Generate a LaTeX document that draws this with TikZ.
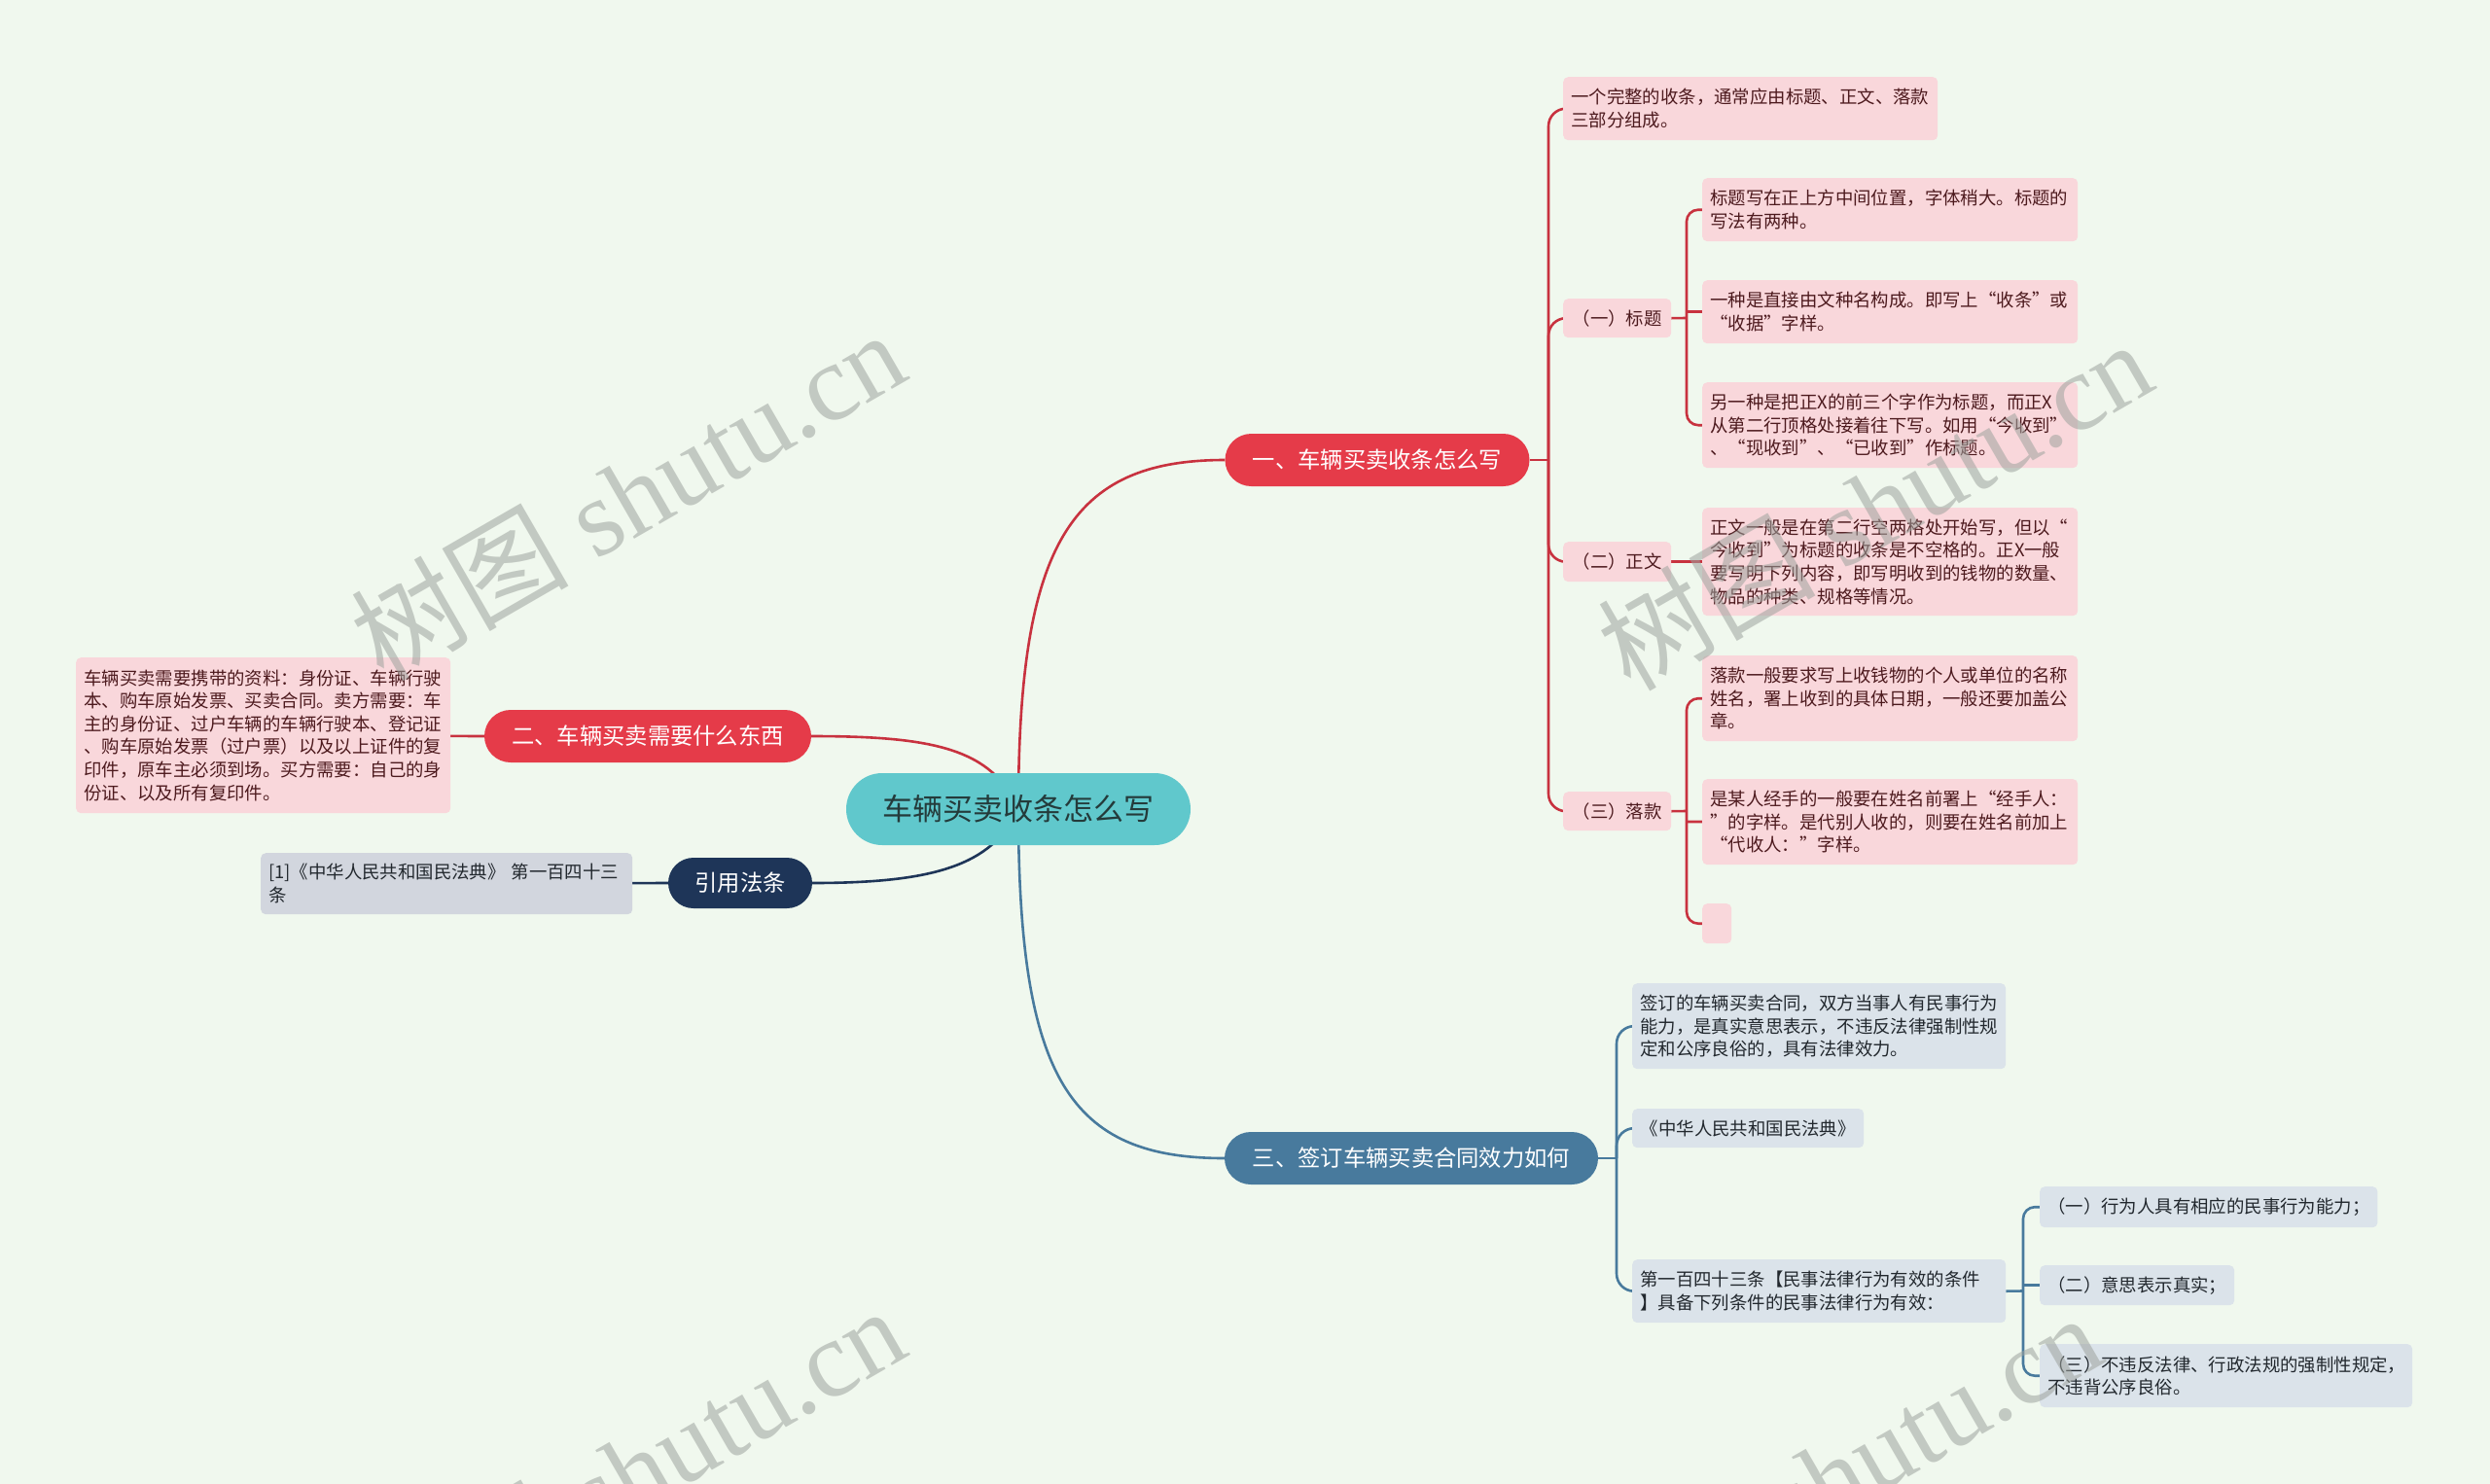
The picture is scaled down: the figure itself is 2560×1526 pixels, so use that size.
\documentclass[tikz,border=0pt]{standalone}
\usepackage{fontspec}
\newfontfamily\cjk{Noto Sans CJK SC}
\newfontfamily\wmserif{Liberation Serif}
\definecolor{bg}{HTML}{F0F8EE}
\definecolor{rootc}{HTML}{60C8CC}
\definecolor{roottext}{HTML}{243B3B}
\definecolor{redc}{HTML}{E53B49}
\definecolor{redline}{HTML}{C8323F}
\definecolor{pinkc}{HTML}{F9D7DB}
\definecolor{pinktext}{HTML}{4D1A1E}
\definecolor{navyc}{HTML}{1E3558}
\definecolor{bluec}{HTML}{487A9D}
\definecolor{bluegrey}{HTML}{DBE3EA}
\definecolor{greyc}{HTML}{D2D6DE}
\definecolor{darktext}{HTML}{22282E}
\definecolor{wmc}{HTML}{9EA39E}
\newcommand\leaffont{\cjk\fontsize{18.4}{23.6}\selectfont}
\newcommand\branchfont{\cjk\fontsize{23.3}{28}\selectfont}
\newcommand\rootfont{\cjk\fontsize{31}{36}\selectfont}
\pgfdeclarelayer{back}
\pgfsetlayers{back,main}
\tikzset{
  pill/.style={rectangle, rounded corners=27pt, inner sep=0pt, text=white, font=\branchfont, minimum height=54pt},
  pinkbox/.style={rectangle, rounded corners=5pt, fill=pinkc, text=pinktext, font=\leaffont, inner xsep=8pt, inner ysep=0pt, anchor=north west, align=left},
  bluebox/.style={rectangle, rounded corners=5pt, fill=bluegrey, text=darktext, font=\leaffont, inner xsep=8pt, inner ysep=0pt, anchor=north west, align=left},
  greybox/.style={rectangle, rounded corners=5pt, fill=greyc, text=darktext, font=\leaffont, inner xsep=8pt, inner ysep=0pt, anchor=north west, align=left},
  redconn/.style={draw=redline, line width=2.6pt},
  navyconn/.style={draw=navyc, line width=2.6pt},
  blueconn/.style={draw=bluec, line width=2.6pt},
  wmark/.style={text=wmc, opacity=0.55, rotate=30, inner sep=0pt, font={\wmserif\fontsize{112}{118}\selectfont}},
}
\begin{document}
\begin{tikzpicture}[x=1pt,y=-1pt]
\useasboundingbox (0,0) rectangle (2560,1526);

% ---------- nodes ----------
\node[pill, fill=rootc, text=roottext, font=\rootfont, minimum width=354pt, minimum height=74pt, rounded corners=37pt] (root) at (1047,832) {车辆买卖收条怎么写};
\node[pill, fill=redc, minimum width=313pt] (b1) at (1416,473) {一、车辆买卖收条怎么写};
\node[pill, fill=redc, minimum width=336pt] (b2) at (666,757) {二、车辆买卖需要什么东西};
\node[pill, fill=navyc, minimum width=148pt, minimum height=52pt, rounded corners=26pt] (cite) at (761,908) {引用法条};
\node[pill, fill=bluec, minimum width=384pt] (b3) at (1451,1191) {三、签订车辆买卖合同效力如何};

% branch 1 children
\node[pinkbox, text width=369pt, minimum height=65pt] (L1) at (1607,79) {一个完整的收条，通常应由标题、正文、落款\\三部分组成。};
\node[pinkbox, minimum width=111pt, minimum height=40pt] (T) at (1607,307) {（一）标题};
\node[pinkbox, minimum width=111pt, minimum height=41pt] (Z) at (1607,557) {（二）正文};
\node[pinkbox, minimum width=111pt, minimum height=40pt] (K) at (1607,814) {（三）落款};

\node[pinkbox, text width=370pt, minimum height=65pt] (Ta) at (1750,183) {标题写在正上方中间位置，字体稍大。标题的\\写法有两种。};
\node[pinkbox, text width=370pt, minimum height=65pt] (Tb) at (1750,288) {一种是直接由文种名构成。即写上“收条”或\\“收据”字样。};
\node[pinkbox, text width=370pt, minimum height=88pt] (Tc) at (1750,393) {另一种是把正X的前三个字作为标题，而正X\\从第二行顶格处接着往下写。如用“今收到”\\、“现收到”、“已收到”作标题。};
\node[pinkbox, text width=370pt, minimum height=111pt] (Za) at (1750,522) {正文一般是在第二行空两格处开始写，但以“\\今收到”为标题的收条是不空格的。正X一般\\要写明下列内容，即写明收到的钱物的数量、\\物品的种类、规格等情况。};
\node[pinkbox, text width=370pt, minimum height=88pt] (Ka) at (1750,674) {落款一般要求写上收钱物的个人或单位的名称\\姓名，署上收到的具体日期，一般还要加盖公\\章。};
\node[pinkbox, text width=370pt, minimum height=88pt] (Kb) at (1750,801) {是某人经手的一般要在姓名前署上“经手人：\\”的字样。是代别人收的，则要在姓名前加上\\“代收人：”字样。};
\node[pinkbox, minimum width=30pt, minimum height=41pt] (Kc) at (1750,929) {};

% branch 2 child
\node[pinkbox, text width=369pt, minimum height=160pt] (B2L) at (78,676) {车辆买卖需要携带的资料：身份证、车辆行驶\\本、购车原始发票、买卖合同。卖方需要：车\\主的身份证、过户车辆的车辆行驶本、登记证\\、购车原始发票（过户票）以及以上证件的复\\印件，原车主必须到场。买方需要：自己的身\\份证、以及所有复印件。};

% citation child
\node[greybox, text width=366pt, minimum height=63pt] (C) at (268,877) {[1]《中华人民共和国民法典》 第一百四十三\\条};

% branch 3 children
\node[bluebox, text width=368pt, minimum height=88pt] (M1) at (1678,1011) {签订的车辆买卖合同，双方当事人有民事行为\\能力，是真实意思表示，不违反法律强制性规\\定和公序良俗的，具有法律效力。};
\node[bluebox, minimum width=238pt, minimum height=40pt] (M2) at (1678,1140) {《中华人民共和国民法典》};
\node[bluebox, text width=368pt, minimum height=65pt] (M3) at (1678,1295) {第一百四十三条【民事法律行为有效的条件\\】具备下列条件的民事法律行为有效：};
\node[bluebox, minimum width=347pt, minimum height=42pt] (N1) at (2097,1220) {（一）行为人具有相应的民事行为能力；};
\node[bluebox, minimum width=200pt, minimum height=41pt] (N2) at (2097,1301) {（二）意思表示真实；};
\node[bluebox, text width=367pt, minimum height=65pt] (N3) at (2097,1382) {（三）不违反法律、行政法规的强制性规定，\\不违背公序良俗。};

% ---------- background and connectors (behind nodes) ----------
\begin{pgfonlayer}{back}
\fill[bg] (0,0) rectangle (2560,1526);
\draw[redconn] (root.center) .. controls (1047,560) and (1100,473) .. (b1.west);
\draw[redconn] (root.center) .. controls (1020,770) and (960,757) .. (b2.east);
\draw[navyconn] (root.center) .. controls (1020,890) and (960,908) .. (cite.east);
\draw[blueconn] (root.center) .. controls (1047,1110) and (1100,1191) .. (b3.west);

\draw[redconn] (b2.west) -- (B2L.center);
\draw[navyconn] (cite.west) -- (C.center);

\draw[redconn] (b1.east) -- (1592,473);
\draw[redconn, rounded corners=18pt] (L1.center) -| (1592,473) |- (K.center);
\draw[redconn, rounded corners=18pt] (1592,473) |- (T.center);
\draw[redconn, rounded corners=18pt] (1592,473) |- (Z.center);

\draw[redconn] (T.east) -- (1734,327);
\draw[redconn, rounded corners=12pt] (Ta.center) -| (1734,327) |- (Tc.center);
\draw[redconn] (1734,320.5) -- (Tb.center);

\draw[redconn] (Z.center) -- (Za.center);

\draw[redconn] (K.east) -- (1734,834);
\draw[redconn, rounded corners=12pt] (Ka.center) -| (1734,834) |- (Kc.center);
\draw[redconn] (1734,845) -- (Kb.center);

\draw[blueconn] (b3.east) -- (1662,1191);
\draw[blueconn, rounded corners=18pt] (M1.center) -| (1662,1191) |- (M3.center);
\draw[blueconn, rounded corners=18pt] (1662,1191) |- (M2.center);

\draw[blueconn] (M3.east) -- (2080,1327.5);
\draw[blueconn, rounded corners=12pt] (N1.center) -| (2080,1327.5) |- (N3.center);
\draw[blueconn] (2080,1321.5) -- (N2.center);
\end{pgfonlayer}

% ---------- watermarks ----------
\node[wmark] (w1) at (645,509) {{\cjk 树图} shutu.cn};
\node[wmark] (w2) at (1927,519) {{\cjk 树图} shutu.cn};
\node[wmark] (w3) at (645,1513) {{\cjk 树图} shutu.cn};
\node[wmark] (w4) at (1875,1520) {{\cjk 树图} shutu.cn};
\end{tikzpicture}
\end{document}
